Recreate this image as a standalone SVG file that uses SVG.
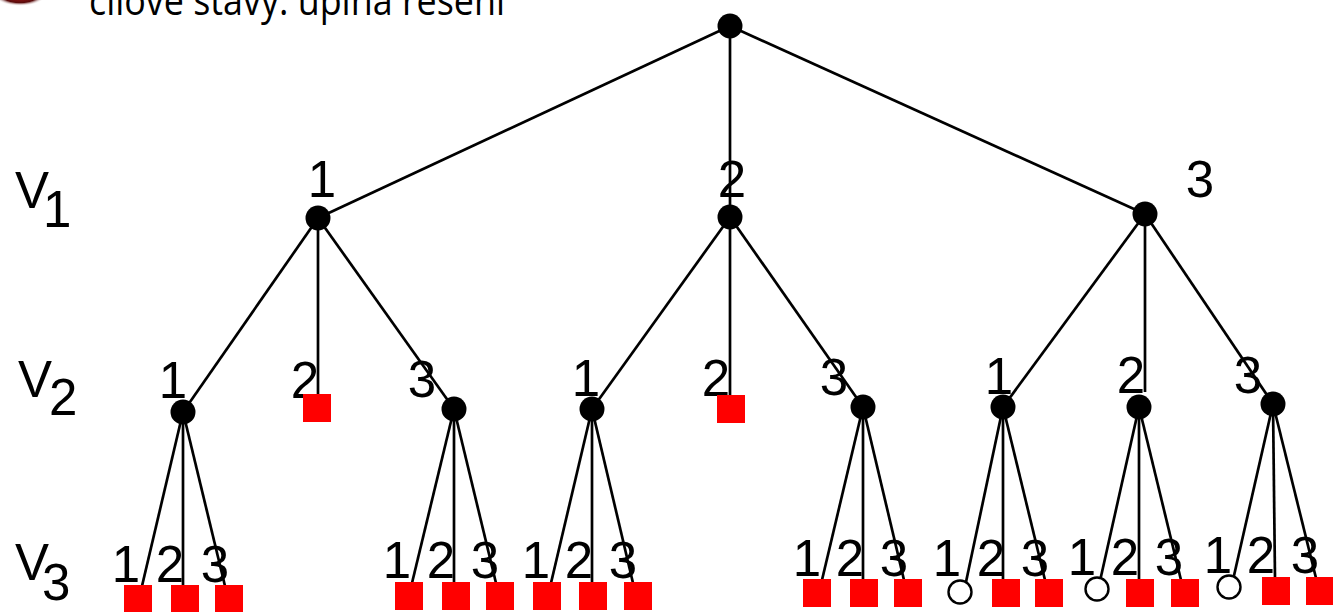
<svg xmlns="http://www.w3.org/2000/svg" width="1333" height="612" viewBox="0 0 1333 612">
<defs>
<radialGradient id="bul" cx="0.5" cy="0.5" r="0.5">
<stop offset="0" stop-color="#c01818"/>
<stop offset="0.7" stop-color="#5a0c0c"/>
<stop offset="1" stop-color="#ffffff" stop-opacity="0"/>
</radialGradient>
</defs>
<style>
.e{stroke:#000;stroke-width:2.7;fill:none}
.n{fill:#000}
.g{fill:#ff0000}
.o{fill:#fff;stroke:#000;stroke-width:2.4}
.t{font-family:"Liberation Sans",Arial,sans-serif;font-size:51px;fill:#000;text-anchor:middle}
.v{font-family:"Liberation Sans",Arial,sans-serif;font-size:51px;fill:#000}
.h{font-family:"Open Sans","DejaVu Sans",sans-serif;font-size:40px;fill:#000}
</style>
<rect width="1333" height="612" fill="#fff"/>
<g id="title">
<ellipse cx="20" cy="-5" rx="26" ry="11" fill="url(#bul)"/>
<text class="h" x="89" y="15" textLength="416" lengthAdjust="spacingAndGlyphs">cílové stavy: úplná řešení</text>
</g>
<g id="levels">
<text class="v" x="15" y="208">V<tspan x="43" y="227">1</tspan></text>
<text class="v" x="18" y="397">V<tspan x="49" y="415">2</tspan></text>
<text class="v" x="15" y="580">V<tspan x="42" y="600">3</tspan></text>
</g>
<g id="connectors">
<line class="e" x1="730" y1="26" x2="318" y2="218"/>
<line class="e" x1="730" y1="26" x2="730" y2="217"/>
<line class="e" x1="730" y1="26" x2="1145" y2="214"/>
<line class="e" x1="318" y1="218" x2="183" y2="412"/>
<line class="e" x1="318" y1="218" x2="318" y2="395"/>
<line class="e" x1="318" y1="218" x2="454" y2="409"/>
<line class="e" x1="730" y1="217" x2="592" y2="409"/>
<line class="e" x1="730" y1="217" x2="730" y2="396"/>
<line class="e" x1="730" y1="217" x2="863" y2="407"/>
<line class="e" x1="1145" y1="214" x2="1003" y2="407"/>
<line class="e" x1="1145" y1="214" x2="1145" y2="392"/>
<line class="e" x1="1145" y1="214" x2="1273" y2="404"/>
<line class="e" x1="183" y1="412" x2="142" y2="586"/>
<line class="e" x1="183" y1="412" x2="183" y2="586"/>
<line class="e" x1="183" y1="412" x2="225" y2="586"/>
<line class="e" x1="454" y1="409" x2="412" y2="583"/>
<line class="e" x1="454" y1="409" x2="454" y2="583"/>
<line class="e" x1="454" y1="409" x2="496" y2="583"/>
<line class="e" x1="592" y1="409" x2="551" y2="583"/>
<line class="e" x1="592" y1="409" x2="592" y2="583"/>
<line class="e" x1="592" y1="409" x2="633" y2="583"/>
<line class="e" x1="863" y1="407" x2="822" y2="580"/>
<line class="e" x1="863" y1="407" x2="863" y2="580"/>
<line class="e" x1="863" y1="407" x2="904" y2="580"/>
<line class="e" x1="1003" y1="407" x2="966" y2="582"/>
<line class="e" x1="1003" y1="407" x2="1003" y2="580"/>
<line class="e" x1="1003" y1="407" x2="1045" y2="580"/>
<line class="e" x1="1139" y1="407" x2="1100" y2="581"/>
<line class="e" x1="1139" y1="407" x2="1139" y2="580"/>
<line class="e" x1="1139" y1="407" x2="1181" y2="580"/>
<line class="e" x1="1273" y1="404" x2="1233" y2="580"/>
<line class="e" x1="1273" y1="404" x2="1275" y2="578"/>
<line class="e" x1="1273" y1="404" x2="1316" y2="578"/>
</g>
<g id="labels">
<text class="t" x="322" y="197">1</text>
<text class="t" x="732" y="197">2</text>
<text class="t" x="1200" y="197">3</text>
<text class="t" x="173" y="398">1</text>
<text class="t" x="305" y="398">2</text>
<text class="t" x="422" y="397">3</text>
<text class="t" x="586" y="396">1</text>
<text class="t" x="716" y="396">2</text>
<text class="t" x="834" y="395">3</text>
<text class="t" x="999" y="394">1</text>
<text class="t" x="1131" y="393">2</text>
<text class="t" x="1248" y="393">3</text>
<text class="t" x="126" y="582">1</text>
<text class="t" x="170" y="582">2</text>
<text class="t" x="215" y="582">3</text>
<text class="t" x="397" y="578">1</text>
<text class="t" x="441" y="578">2</text>
<text class="t" x="485" y="578">3</text>
<text class="t" x="536" y="578">1</text>
<text class="t" x="579" y="578">2</text>
<text class="t" x="623" y="578">3</text>
<text class="t" x="807" y="576">1</text>
<text class="t" x="850" y="576">2</text>
<text class="t" x="894" y="576">3</text>
<text class="t" x="947" y="576">1</text>
<text class="t" x="991" y="576">2</text>
<text class="t" x="1035" y="576">3</text>
<text class="t" x="1082" y="575">1</text>
<text class="t" x="1125" y="575">2</text>
<text class="t" x="1169" y="575">3</text>
<text class="t" x="1218" y="573">1</text>
<text class="t" x="1261" y="573">2</text>
<text class="t" x="1305" y="573">3</text>
</g>
<g id="root"><circle class="n" cx="730" cy="26" r="12.5"/></g>
<g id="n1"><circle class="n" cx="318" cy="218" r="12.5"/></g>
<g id="n2"><circle class="n" cx="730" cy="217" r="12.5"/></g>
<g id="n3"><circle class="n" cx="1145" cy="214" r="12.5"/></g>
<g id="n11"><circle class="n" cx="183" cy="412" r="12.5"/></g>
<g id="n12"><rect class="g" x="303" y="394" width="28" height="28"/></g>
<g id="n13"><circle class="n" cx="454" cy="409" r="12.5"/></g>
<g id="n21"><circle class="n" cx="592" cy="409" r="12.5"/></g>
<g id="n22"><rect class="g" x="717" y="395" width="28" height="28"/></g>
<g id="n23"><circle class="n" cx="863" cy="407" r="12.5"/></g>
<g id="n31"><circle class="n" cx="1003" cy="407" r="12.5"/></g>
<g id="n32"><circle class="n" cx="1139" cy="407" r="12.5"/></g>
<g id="n33"><circle class="n" cx="1273" cy="404" r="12.5"/></g>
<g id="n111"><rect class="g" x="124" y="585" width="28" height="28"/></g>
<g id="n112"><rect class="g" x="171" y="585" width="28" height="28"/></g>
<g id="n113"><rect class="g" x="215" y="585" width="28" height="28"/></g>
<g id="n131"><rect class="g" x="395" y="582" width="28" height="28"/></g>
<g id="n132"><rect class="g" x="442" y="582" width="28" height="28"/></g>
<g id="n133"><rect class="g" x="486" y="582" width="28" height="28"/></g>
<g id="n211"><rect class="g" x="533" y="582" width="28" height="28"/></g>
<g id="n212"><rect class="g" x="579" y="582" width="28" height="28"/></g>
<g id="n213"><rect class="g" x="624" y="582" width="28" height="28"/></g>
<g id="n231"><rect class="g" x="803" y="579" width="28" height="28"/></g>
<g id="n232"><rect class="g" x="850" y="579" width="28" height="28"/></g>
<g id="n233"><rect class="g" x="894" y="579" width="28" height="28"/></g>
<g id="n311"><circle class="o" cx="960" cy="592" r="11.5"/></g>
<g id="n312"><rect class="g" x="992" y="579" width="28" height="28"/></g>
<g id="n313"><rect class="g" x="1035" y="579" width="28" height="28"/></g>
<g id="n321"><circle class="o" cx="1097" cy="589" r="11.5"/></g>
<g id="n322"><rect class="g" x="1126" y="579" width="28" height="28"/></g>
<g id="n323"><rect class="g" x="1171" y="579" width="28" height="28"/></g>
<g id="n331"><circle class="o" cx="1229" cy="587" r="11.5"/></g>
<g id="n332"><rect class="g" x="1262" y="577" width="28" height="28"/></g>
<g id="n333"><rect class="g" x="1306" y="577" width="28" height="28"/></g>
</svg>
